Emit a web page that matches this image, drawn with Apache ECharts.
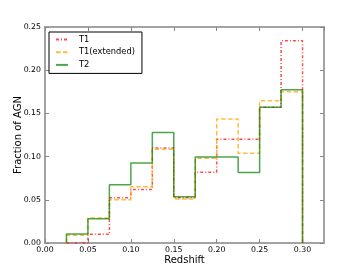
<!DOCTYPE html>
<html><head><meta charset="utf-8">
<script src="https://cdn.jsdelivr.net/npm/echarts@6/dist/echarts.min.js"></script>
<style>html,body{margin:0;padding:0;background:#fff}#c{width:360px;height:270px}</style>
</head><body><div id="c"></div>
<script>
const binEdges = [0.025,0.05,0.075,0.1,0.125,0.15,0.175,0.2,0.225,0.25,0.275,0.3];
const seriesNames = ['T1','T1(extended)','T2'];
const t1 = [0, 0.010, 0.0525, 0.062, 0.110, 0.0525, 0.082, 0.120, 0.120, 0.157, 0.234];
const t1ext = [0.009, 0.029, 0.050, 0.065, 0.1085, 0.051, 0.098, 0.1435, 0.104, 0.1645, 0.175];
const t2 = [0.0105, 0.028, 0.0675, 0.0925, 0.128, 0.0535, 0.0995, 0.0995, 0.0815, 0.157, 0.1775];
const xTicks = [0,0.05,0.10,0.15,0.20,0.25,0.30];
const yTicks = [0,0.05,0.10,0.15,0.20,0.25];

function stepPoints(vals){
  const pts=[[binEdges[0],0]];
  for(let i=0;i<vals.length;i++){pts.push([binEdges[i],vals[i]]);pts.push([binEdges[i+1],vals[i]]);}
  pts.push([binEdges[binEdges.length-1],0]);
  return pts;
}
const FONT='DejaVu Sans';
const spine={show:true,onZero:false,lineStyle:{color:'#a3a3a3',width:2}};
const tick={show:true,inside:true,length:4,lineStyle:{color:'#888',width:1}};
const chart=echarts.init(document.getElementById('c'),null,{renderer:'canvas'});
chart.setOption({
  animation:false,
  textStyle:{fontFamily:FONT},
  grid:{left:45,top:27,width:279,height:216,containLabel:false},
  legend:{
    left:49,top:32,orient:'vertical',
    data:seriesNames,
    borderColor:'#000',borderWidth:1,borderRadius:0,
    padding:[3,7,4,6],
    itemWidth:12,itemHeight:9,itemGap:3.7,
    itemStyle:{opacity:0},
    textStyle:{fontFamily:FONT,fontSize:8.3,color:'#000',padding:[0,0,0,6],lineHeight:9}
  },
  xAxis:[
    {type:'value',position:'bottom',min:0,max:0.325,interval:0.05,
     axisLine:spine,axisTick:tick,splitLine:{show:false},
     axisLabel:{fontFamily:FONT,fontSize:7.8,color:'#000',margin:3,showMaxLabel:false,
       formatter:v=>{const t=xTicks.find(x=>Math.abs(x-v)<1e-9);return t===undefined?'':t.toFixed(2);}},
     name:'Redshift',nameLocation:'middle',nameGap:12,nameMoveOverlap:false,
     nameTextStyle:{fontFamily:FONT,fontSize:10,color:'#000'}},
    {type:'value',position:'top',min:0,max:0.325,interval:0.05,
     axisLine:spine,axisTick:tick,axisLabel:{show:false},splitLine:{show:false}}
  ],
  yAxis:[
    {type:'value',position:'left',min:0,max:0.25,interval:0.05,
     axisLine:spine,axisTick:tick,splitLine:{show:false},
     axisLabel:{fontFamily:FONT,fontSize:7.8,color:'#000',margin:4,
       formatter:v=>{const t=yTicks.find(x=>Math.abs(x-v)<1e-9);return t===undefined?'':t.toFixed(2);}},
     name:'Fraction of AGN',nameLocation:'middle',nameGap:22,nameMoveOverlap:false,
     nameTextStyle:{fontFamily:FONT,fontSize:10,color:'#000'}},
    {type:'value',position:'right',min:0,max:0.25,interval:0.05,
     axisLine:spine,axisTick:tick,axisLabel:{show:false},splitLine:{show:false}}
  ],
  series:[
    {name:'T1',type:'line',data:stepPoints(t1),symbol:'none',
     lineStyle:{color:'rgba(255,0,0,0.7)',width:1.5,type:[3,2,1,2]},itemStyle:{color:'rgba(255,0,0,0.7)'}},
    {name:'T1(extended)',type:'line',data:stepPoints(t1ext),symbol:'none',
     lineStyle:{color:'rgba(255,165,0,0.75)',width:1.5,type:[4.5,2.5]},itemStyle:{color:'rgba(255,165,0,0.75)'}},
    {name:'T2',type:'line',data:stepPoints(t2),symbol:'none',
     lineStyle:{color:'rgba(0,128,0,0.7)',width:1.5,type:'solid'},itemStyle:{color:'rgba(0,128,0,0.7)'}}
  ]
});
</script></body></html>
